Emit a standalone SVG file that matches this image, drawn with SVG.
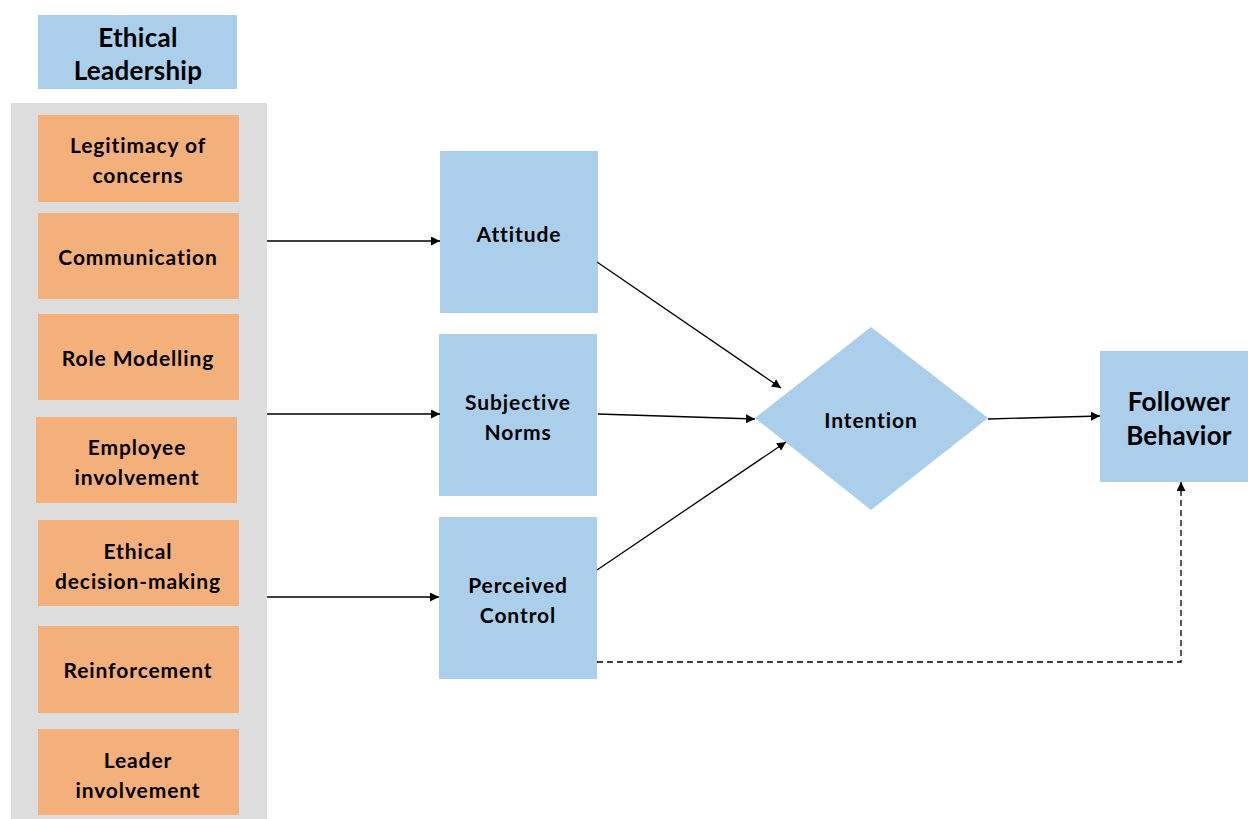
<svg xmlns="http://www.w3.org/2000/svg" width="1248" height="819" viewBox="0 0 1248 819">
<style>
.blue{fill:#ABCEEA}
.org{fill:#F4B07A}
.t{font-family:Lato,"Liberation Sans",sans-serif;font-weight:bold;font-size:21px;letter-spacing:0.9px;fill:#000;text-anchor:middle}
.tl{font-size:26px;letter-spacing:0.3px}
.c{stroke:#000;stroke-width:1.3;fill:none}
</style>
<defs>
<marker id="a" viewBox="0 0 10 10" refX="10" refY="5" markerWidth="9" markerHeight="9" markerUnits="userSpaceOnUse" orient="auto"><path d="M0,0 L10,5 L0,10 z" fill="#000"/></marker>
</defs>
<rect width="1248" height="819" fill="#fff"/>
<g id="ethical-leadership"><rect class="blue" x="38" y="15" width="199" height="74"/><text class="t tl" x="138" y="47">Ethical</text><text class="t tl" x="138" y="80">Leadership</text></g>
<g id="panel"><rect x="11" y="103" width="256" height="716" fill="#DDDDDD"/></g>
<g id="legitimacy"><rect class="org" x="38" y="115" width="201" height="87"/><text class="t" x="138" y="153">Legitimacy of</text><text class="t" x="138" y="183">concerns</text></g>
<g id="communication"><rect class="org" x="38" y="213" width="201" height="86"/><text class="t" x="138" y="265">Communication</text></g>
<g id="role-modelling"><rect class="org" x="38" y="314" width="201" height="86"/><text class="t" x="138" y="366">Role Modelling</text></g>
<g id="employee-involvement"><rect class="org" x="36" y="417" width="201" height="86"/><text class="t" x="137" y="455">Employee</text><text class="t" x="137" y="485">involvement</text></g>
<g id="ethical-decision"><rect class="org" x="38" y="520" width="201" height="86"/><text class="t" x="138" y="559">Ethical</text><text class="t" x="138" y="589">decision-making</text></g>
<g id="reinforcement"><rect class="org" x="38" y="626" width="201" height="87"/><text class="t" x="138" y="678">Reinforcement</text></g>
<g id="leader-involvement"><rect class="org" x="38" y="729" width="201" height="86"/><text class="t" x="138" y="768">Leader</text><text class="t" x="138" y="798">involvement</text></g>
<g id="attitude"><rect class="blue" x="440" y="151" width="158" height="162"/><text class="t" x="519" y="242">Attitude</text></g>
<g id="subjective-norms"><rect class="blue" x="439" y="334" width="158" height="162"/><text class="t" x="518" y="410">Subjective</text><text class="t" x="518" y="440">Norms</text></g>
<g id="perceived-control"><rect class="blue" x="439" y="517" width="158" height="162"/><text class="t" x="518" y="593">Perceived</text><text class="t" x="518" y="623">Control</text></g>
<g id="intention"><polygon class="blue" points="871,327 988,418 871,510 755,418"/><text class="t" x="871" y="428">Intention</text></g>
<g id="follower-behavior"><rect class="blue" x="1100" y="351" width="148" height="131"/><text class="t tl" x="1179" y="411">Follower</text><text class="t tl" x="1179" y="445">Behavior</text></g>
<g id="connectors">
<line class="c" x1="267" y1="241" x2="440" y2="241" marker-end="url(#a)"/>
<line class="c" x1="267" y1="414" x2="440" y2="414" marker-end="url(#a)"/>
<line class="c" x1="267" y1="597" x2="439" y2="597" marker-end="url(#a)"/>
<line class="c" x1="597" y1="262" x2="781" y2="388" marker-end="url(#a)"/>
<line class="c" x1="598" y1="414" x2="755" y2="419" marker-end="url(#a)"/>
<line class="c" x1="597" y1="570" x2="786" y2="442" marker-end="url(#a)"/>
<line class="c" x1="988" y1="419" x2="1100" y2="416" marker-end="url(#a)"/>
<polyline class="c" points="597,662 1181,662 1181,482" stroke-dasharray="6,4" marker-end="url(#a)"/>
</g>
</svg>
